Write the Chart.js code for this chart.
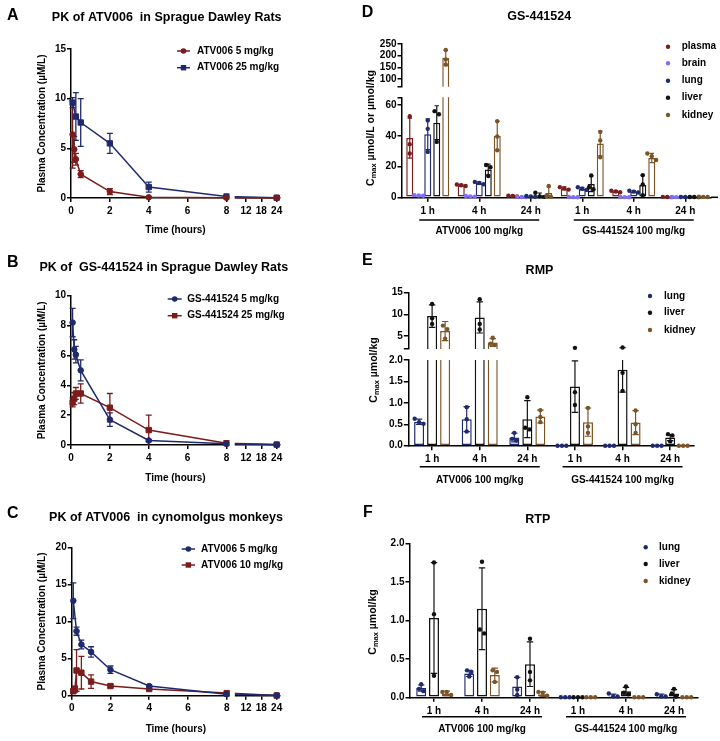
<!DOCTYPE html>
<html>
<head>
<meta charset="utf-8">
<title>PK and tissue distribution of ATV006 / GS-441524</title>
<script src="https://cdn.jsdelivr.net/npm/chart.js@4.4.1/dist/chart.umd.min.js"></script>
<style>
html,body{margin:0;padding:0;background:#fff;}
#root{position:relative;width:720px;height:741px;overflow:hidden;background:#fff;}
canvas{position:absolute;}
</style>
</head>
<body>
<div id="root">
<canvas id="cA" width="360" height="250" style="left:0;top:0"></canvas>
<canvas id="cB" width="360" height="240" style="left:0;top:250px"></canvas>
<canvas id="cC" width="360" height="251" style="left:0;top:490px"></canvas>
<canvas id="cDl" width="360" height="250" style="left:360px;top:0"></canvas>
<canvas id="cDu" width="360" height="250" style="left:360px;top:0"></canvas>
<canvas id="cEl" width="360" height="240" style="left:360px;top:250px"></canvas>
<canvas id="cEu" width="360" height="240" style="left:360px;top:250px"></canvas>
<canvas id="cF" width="360" height="251" style="left:360px;top:490px"></canvas>
</div>
<script>
// ===================== DATA =====================
const TIME_TICKS = [0, 2, 4, 6, 8, 12, 18, 24];

// A: ATV006 in SD rats
const A_T_5 = [0.083, 0.167, 0.25, 0.5, 2, 4, 8, 24];
const A_MEAN_5 = [6.4, 4.9, 3.9, 2.4, 0.65, 0.07, 0.02, 0.01];
const A_SD_5 = [3.4, 1.3, 0.6, 0.35, 0.3, 0.05, 0.01, 0.005];
const A_T_25 = [0.083, 0.25, 0.5, 2, 4, 8, 24];
const A_MEAN_25 = [9.6, 8.2, 7.6, 5.5, 1.1, 0.15, 0.03];
const A_SD_25 = [0.5, 2.4, 2.4, 1.0, 0.5, 0.08, 0.02];

// B: GS-441524 in SD rats
const B_T = [0.083, 0.167, 0.25, 0.5, 2, 4, 8, 24];
const B_MEAN_5 = [8.2, 6.4, 6.05, 5.0, 1.7, 0.3, 0.08, 0.02];
const B_SD_5 = [0.95, 0.65, 0.55, 0.7, 0.45, 0.08, 0.03, 0.01];
const B_MEAN_25 = [2.85, 3.1, 3.45, 3.45, 2.5, 1.0, 0.12, 0.03];
const B_SD_25 = [0.3, 0.4, 0.4, 0.65, 0.95, 1.0, 0.05, 0.02];

// C: ATV006 in cynomolgus monkeys
const C_T_5 = [0.083, 0.25, 0.5, 1, 2, 4, 8, 24];
const C_MEAN_5 = [12.8, 8.7, 6.9, 5.9, 3.5, 1.3, 0.2, 0.05];
const C_SD_5 = [2.4, 0.55, 0.6, 0.7, 0.5, 0.15, 0.05, 0.02];
const C_T_10 = [0.083, 0.167, 0.25, 0.5, 1, 2, 4, 8, 24];
const C_MEAN_10 = [0.6, 0.9, 3.4, 3.1, 1.9, 1.3, 0.9, 0.35, 0.02];
const C_SD_10 = [0.3, 0.4, 2.8, 2.2, 0.9, 0.2, 0.15, 0.1, 0.01];

// D-F: tissue distribution
const TIME_LABELS = ['1 h', '4 h', '24 h', '1 h', '4 h', '24 h'];
const GROUP_LABELS = ['ATV006 100 mg/kg', 'GS-441524 100 mg/kg'];

// D: GS-441524
const D_UPPER_TICKS = [100, 150, 200, 250];
const D_LOWER_TICKS = [0, 20, 40, 60];
const D_PLASMA_MEAN = [38.5, 7.8, 0.8, 5.8, 3.8, 0.2];
const D_PLASMA_SD = [13, 0.6, 0.4, 1.0, 0.5, 0.1];
const D_PLASMA_PTS = [[52.7, 34.5, 28.5], [8.3, 7.8, 7.3], [1.0, 0.8, 0.5], [6.6, 5.8, 5.0], [4.3, 3.8, 3.3], [0.3, 0.2, 0.1]];
const D_BRAIN_MEAN = [1.2, 0.6, 0.2, 0.1, 0.1, 0.1];
const D_BRAIN_SD = [0.3, 0.2, 0.1, 0.05, 0.05, 0.05];
const D_BRAIN_PTS = [[1.4, 1.2, 1.0], [0.8, 0.6, 0.4], [0.3, 0.2, 0.1], [0.15, 0.1, 0.05], [0.15, 0.1, 0.05], [0.15, 0.1, 0.05]];
const D_LUNG_MEAN = [41, 9.3, 0.5, 5.6, 3.7, 0.2];
const D_LUNG_SD = [10, 0.8, 0.3, 0.8, 0.6, 0.1];
const D_LUNG_PTS = [[50, 44.5, 29.5], [10, 9.3, 8.5], [0.8, 0.5, 0.3], [6.5, 5.6, 4.8], [4.3, 3.7, 3.1], [0.3, 0.2, 0.1]];
const D_LIVER_MEAN = [48.5, 18, 1.3, 8.7, 8, 0.2];
const D_LIVER_SD = [11, 3.5, 1.5, 5, 6.5, 0.1];
const D_LIVER_PTS = [[56, 54, 36], [21, 19.5, 13.8], [3.0, 0.6, 0.3], [14.2, 6.5, 5.2], [14.4, 8.4, 1.3], [0.3, 0.2, 0.1]];
const D_KIDNEY_MEAN = [190, 40, 2.8, 35, 25.5, 0.3];
const D_KIDNEY_SD = [33, 9.5, 4, 8, 3, 0.2];
const D_KIDNEY_PTS = [[224, 184, 162], [49.4, 39.5, 30.6], [7.3, 0.8, 0.3], [42.5, 37, 26], [28.5, 26.7, 24.2], [0.4, 0.3, 0.2]];

// E: RMP
const E_UPPER_TICKS = [5, 10, 15];
const E_LOWER_TICKS = [0, 0.5, 1, 1.5, 2];
const E_LUNG_MEAN = [0.56, 0.62, 0.19, 0, 0, 0];
const E_LUNG_SD = [0.06, 0.29, 0.1, 0, 0, 0];
const E_LUNG_PTS = [[0.63, 0.55, 0.51], [0.9, 0.62, 0.33], [0.3, 0.16, 0.12], [0, 0, 0], [0, 0, 0], [0, 0, 0]];
const E_LIVER_MEAN = [9.6, 9.3, 0.62, 1.38, 1.77, 0.19];
const E_LIVER_SD = [2.6, 3.6, 0.43, 0.6, 0.52, 0.07];
const E_LIVER_PTS = [[12.4, 9.1, 7.8], [13.5, 7.8, 6.5], [1.13, 0.42, 0.38], [2.26, 1.25, 0.95], [2.35, 1.7, 1.28], [0.27, 0.24, 0.1]];
const E_KIDNEY_MEAN = [6.15, 3.5, 0.68, 0.55, 0.54, 0];
const E_KIDNEY_SD = [2.2, 0.9, 0.15, 0.33, 0.28, 0];
const E_KIDNEY_PTS = [[7.4, 6.6, 4.4], [4.6, 3.2, 2.9], [0.83, 0.67, 0.55], [0.88, 0.45, 0.3], [0.82, 0.5, 0.3], [0, 0, 0]];

// F: RTP
const F_TICKS = [0, 0.5, 1, 1.5, 2];
const F_LUNG_MEAN = [0.12, 0.31, 0.14, 0, 0.02, 0.02];
const F_LUNG_SD = [0.04, 0.04, 0.12, 0, 0.02, 0.02];
const F_LUNG_PTS = [[0.17, 0.11, 0.08], [0.35, 0.33, 0.27], [0.26, 0.1, 0.03], [0, 0, 0], [0.05, 0.01, 0.01], [0.04, 0.01, 0.01]];
const F_LIVER_MEAN = [1.03, 1.15, 0.43, 0, 0.08, 0.05];
const F_LIVER_SD = [0.72, 0.53, 0.29, 0, 0.05, 0.05];
const F_LIVER_PTS = [[1.75, 1.08, 0.28], [1.76, 0.88, 0.83], [0.76, 0.33, 0.22], [0, 0, 0], [0.14, 0.06, 0.04], [0.11, 0.05, 0.01]];
const F_KIDNEY_MEAN = [0.05, 0.29, 0.04, 0, 0, 0];
const F_KIDNEY_SD = [0.03, 0.09, 0.03, 0, 0, 0];
const F_KIDNEY_PTS = [[0.07, 0.07, 0.03], [0.35, 0.33, 0.2], [0.07, 0.06, 0.02], [0, 0, 0], [0, 0, 0], [0, 0, 0]];

// ===================== STYLE =====================
const FF = "'Liberation Sans', Arial, Helvetica, sans-serif";
const RED = '#7a1c1c', NAVY = '#1f2a6e';
const C_PLASMA = '#7a1c1c', C_BRAIN = '#7d70f7', C_LUNG = '#1f2a6e', C_LIVER = '#111111', C_KIDNEY = '#7b5527';

Chart.defaults.font.family = FF;
Chart.defaults.font.size = 10;
Chart.defaults.font.weight = 'bold';
Chart.defaults.color = '#000';

// ===================== BROKEN TIME SCALE =====================
const BREAK_HOUR = 8;
class BrokenTimeScale extends Chart.LinearScale {
  _toDec(v) {
    const lf = this.options.breakLeftFrac, rs = this.options.breakRightStart;
    if (v <= BREAK_HOUR) return v / BREAK_HOUR * lf;
    return rs + (v - BREAK_HOUR) / (this.max - BREAK_HOUR) * (1 - rs);
  }
  getPixelForValue(v) {
    return v === null || v === undefined ? NaN : this.getPixelForDecimal(this._toDec(v));
  }
  getValueForPixel(p) {
    const d = this.getDecimalForPixel(p);
    const lf = this.options.breakLeftFrac, rs = this.options.breakRightStart;
    if (d <= lf) return d / lf * BREAK_HOUR;
    return BREAK_HOUR + (d - rs) / (1 - rs) * (this.max - BREAK_HOUR);
  }
}
BrokenTimeScale.id = 'brokenTime';
BrokenTimeScale.defaults = {};
Chart.register(BrokenTimeScale);

// ===================== HELPERS =====================
function txt(ctx, s, x, y, size, align, baseline) {
  ctx.save();
  ctx.font = 'bold ' + size + 'px ' + FF;
  ctx.fillStyle = '#000';
  ctx.textAlign = align || 'center';
  ctx.textBaseline = baseline || 'middle';
  ctx.fillText(s, x, y);
  ctx.restore();
}
function letter(ctx, s, x, y) { txt(ctx, s, x, y, 16, 'left', 'alphabetic'); }
function cmaxTitle(ctx, cx, cy, rest) {
  ctx.save();
  ctx.translate(cx, cy);
  ctx.rotate(-Math.PI / 2);
  const fMain = 'bold 10.5px ' + FF, fSub = 'bold 7.5px ' + FF;
  ctx.font = fMain; const wC = ctx.measureText('C').width; const wR = ctx.measureText(rest).width;
  ctx.font = fSub; const wS = ctx.measureText('max').width;
  let x = -(wC + wS + wR) / 2;
  const base = 3.8;
  ctx.fillStyle = '#000'; ctx.textAlign = 'left'; ctx.textBaseline = 'alphabetic';
  ctx.font = fMain; ctx.fillText('C', x, base); x += wC;
  ctx.font = fSub; ctx.fillText('max', x, base + 2.6); x += wS;
  ctx.font = fMain; ctx.fillText(rest, x, base);
  ctx.restore();
}
function dot(ctx, x, y, r, color) {
  ctx.beginPath(); ctx.arc(x, y, r, 0, Math.PI * 2); ctx.fillStyle = color; ctx.fill();
}
function marker(ctx, style, x, y, color) {
  ctx.fillStyle = color;
  if (style === 'rect') { ctx.fillRect(x - 2.7, y - 2.7, 5.4, 5.4); }
  else { ctx.beginPath(); ctx.arc(x, y, 2.8, 0, Math.PI * 2); ctx.fill(); }
}

// ===================== PK LINE CHARTS =====================
function makePK(id, p) {
  const datasets = p.series.map(s => ({
    label: s.label,
    data: s.t.map((t, i) => ({x: t, y: s.mean[i]})),
    sd: s.sd,
    borderColor: s.color, backgroundColor: s.color,
    pointBackgroundColor: s.color, pointBorderColor: s.color,
    pointStyle: s.marker, pointRadius: s.marker === 'rect' ? 3.8 : 2.8, pointBorderWidth: 1,
    borderWidth: 1.5, tension: 0, clip: 10, fill: false
  }));
  const axisCommon = {
    grid: {drawOnChartArea: false, tickLength: 4, lineWidth: 1.5, color: '#000'},
    border: {color: '#000', width: 1.5}
  };
  return new Chart(document.getElementById(id), {
    type: 'line',
    data: {datasets},
    options: {
      responsive: false, devicePixelRatio: 1, animation: false, events: [],
      layout: {padding: p.pad},
      plugins: {legend: {display: false}, title: {display: false}, tooltip: {enabled: false}},
      scales: {
        x: Object.assign({
          type: 'brokenTime', min: 0, max: 25.3, breakLeftFrac: 0.744, breakRightStart: 0.788,
          afterBuildTicks: s => { s.ticks = TIME_TICKS.map(v => ({value: v})); },
          afterFit: s => { s.height = p.xHeight; },
          ticks: {autoSkip: false, maxRotation: 0, padding: 3, callback: v => String(v)},
          title: {display: true, text: 'Time (hours)', padding: {top: 0, bottom: p.xTitlePad}}
        }, axisCommon),
        y: Object.assign({
          type: 'linear', min: 0, max: p.yMax,
          afterFit: s => { s.width = p.yWidth; },
          ticks: {stepSize: p.yStep, padding: 1},
          title: {display: true, text: 'Plasma Concentration (µM/L)', padding: {top: 0, bottom: 0}}
        }, axisCommon)
      }
    },
    plugins: [{
      id: 'pk_' + id,
      beforeDatasetsDraw(chart) {
        const {ctx, chartArea: a, scales: {x, y}} = chart;
        ctx.save();
        ctx.beginPath(); ctx.rect(a.left - 10, a.top - 10, a.right - a.left + 20, a.bottom - a.top + 10); ctx.clip();
        chart.data.datasets.forEach(ds => {
          ctx.strokeStyle = ds.borderColor; ctx.lineWidth = 1.3;
          ds.data.forEach((pt, i) => {
            const sd = ds.sd[i]; if (!sd) return;
            const px = x.getPixelForValue(pt.x);
            const hi = y.getPixelForValue(pt.y + sd);
            const lo = y.getPixelForValue(Math.max(pt.y - sd, 0));
            ctx.beginPath();
            ctx.moveTo(px, hi); ctx.lineTo(px, lo);
            ctx.moveTo(px - 3, hi); ctx.lineTo(px + 3, hi);
            if (pt.y - sd > 0) { ctx.moveTo(px - 3, lo); ctx.lineTo(px + 3, lo); }
            ctx.stroke();
          });
        });
        ctx.restore();
      },
      afterDraw(chart) {
        const {ctx, chartArea: a, scales: {x}} = chart;
        // axis break between 8 h and the compressed 8-24 h segment
        const g0 = x.getPixelForValue(BREAK_HOUR) + 3.2;
        const g1 = x.getPixelForDecimal(x.options.breakRightStart) - 1;
        ctx.fillStyle = '#fff';
        ctx.fillRect(g0, a.bottom - 4, g1 - g0, 7);
        // legend
        p.legend.forEach((it, k) => {
          const ds = chart.data.datasets[k];
          ctx.strokeStyle = ds.borderColor; ctx.lineWidth = 1.5;
          ctx.beginPath(); ctx.moveTo(it.x1, it.y); ctx.lineTo(it.x2, it.y); ctx.stroke();
          marker(ctx, ds.pointStyle, (it.x1 + it.x2) / 2, it.y, ds.borderColor);
          txt(ctx, ds.label, it.tx, it.y, 10, 'left', 'middle');
        });
        letter(ctx, p.letter, p.letterPos[0], p.letterPos[1]);
        txt(ctx, p.title, p.titlePos[0], p.titlePos[1], 12.5);
      }
    }]
  });
}

makePK('cA', {
  series: [
    {label: 'ATV006 5 mg/kg', t: A_T_5, mean: A_MEAN_5, sd: A_SD_5, color: RED, marker: 'circle'},
    {label: 'ATV006 25 mg/kg', t: A_T_25, mean: A_MEAN_25, sd: A_SD_25, color: NAVY, marker: 'rect'}
  ],
  pad: {left: 36, top: 49, right: 80, bottom: 0}, yWidth: 35, xHeight: 52, xTitlePad: 14,
  yMax: 15, yStep: 5,
  legend: [{x1: 177, x2: 190, tx: 197, y: 51}, {x1: 177, x2: 190, tx: 197, y: 67.7}],
  letter: 'A', letterPos: [7, 20],
  title: 'PK of ATV006  in Sprague Dawley Rats', titlePos: [166.7, 17.5]
});
makePK('cB', {
  series: [
    {label: 'GS-441524 5 mg/kg', t: B_T, mean: B_MEAN_5, sd: B_SD_5, color: NAVY, marker: 'circle'},
    {label: 'GS-441524 25 mg/kg', t: B_T, mean: B_MEAN_25, sd: B_SD_25, color: RED, marker: 'rect'}
  ],
  pad: {left: 36, top: 45.7, right: 80, bottom: 0}, yWidth: 35, xHeight: 45, xTitlePad: 6,
  yMax: 10, yStep: 2,
  legend: [{x1: 167.7, x2: 181.7, tx: 187.3, y: 49}, {x1: 167.7, x2: 181.7, tx: 187.3, y: 65.7}],
  letter: 'B', letterPos: [7, 16.7],
  title: 'PK of  GS-441524 in Sprague Dawley Rats', titlePos: [163.8, 17.7]
});
makePK('cC', {
  series: [
    {label: 'ATV006 5 mg/kg', t: C_T_5, mean: C_MEAN_5, sd: C_SD_5, color: NAVY, marker: 'circle'},
    {label: 'ATV006 10 mg/kg', t: C_T_10, mean: C_MEAN_10, sd: C_SD_10, color: RED, marker: 'rect'}
  ],
  pad: {left: 36.7, top: 57.3, right: 80, bottom: 0}, yWidth: 35, xHeight: 45.3, xTitlePad: 6,
  yMax: 20, yStep: 5,
  legend: [{x1: 181.7, x2: 195, tx: 201, y: 59}, {x1: 181.7, x2: 195, tx: 201, y: 75}],
  letter: 'C', letterPos: [7, 28.3],
  title: 'PK of ATV006  in cynomolgus monkeys', titlePos: [166, 28]
});

// ===================== BAR CHARTS =====================
function drawBrackets(chart, yLine, yText) {
  const {ctx, scales: {x}} = chart;
  const per = TIME_LABELS.length / GROUP_LABELS.length;
  GROUP_LABELS.forEach((lab, g) => {
    const c = x.getPixelForValue(g * per + Math.floor(per / 2));
    ctx.save();
    ctx.strokeStyle = '#000'; ctx.lineWidth = 1.5;
    ctx.beginPath(); ctx.moveTo(c - 60, yLine); ctx.lineTo(c + 60, yLine); ctx.stroke();
    ctx.restore();
    txt(ctx, lab, c, yText, 10);
  });
}
function drawBarLegend(chart, items) {
  const ctx = chart.ctx;
  chart.data.datasets.forEach((ds, k) => {
    const it = items[k];
    dot(ctx, it.dx, it.y, 2.2, ds.borderColor);
    txt(ctx, ds.label, it.tx, it.y, 10, 'left', 'middle');
  });
}

function makeBars(id, p) {
  const datasets = p.tissues.map(t => ({
    label: t.label, data: t.mean, sd: t.sd, pts: t.pts,
    backgroundColor: '#ffffff', borderColor: t.color, borderWidth: 1.5, borderSkipped: false,
    barPercentage: p.barPct, categoryPercentage: p.catPct
  }));
  const tickVals = Array.from(new Set([p.yMin].concat(p.yTicks, [p.yMax]))).sort((a, b) => a - b);
  const labelled = p.yTicks;
  const axisCommon = {
    grid: {drawOnChartArea: false, offset: false, tickLength: 4.5, lineWidth: 1.5, color: '#000'},
    border: {color: '#000', width: 1.5}
  };
  return new Chart(document.getElementById(id), {
    type: 'bar',
    data: {labels: TIME_LABELS, datasets},
    options: {
      responsive: false, devicePixelRatio: 1, animation: false, events: [],
      layout: {padding: p.pad},
      plugins: {legend: {display: false}, title: {display: false}, tooltip: {enabled: false}},
      scales: {
        x: Object.assign({
          type: 'category', display: p.showX, offset: true,
          afterFit: s => { s.height = p.xHeight || 0; },
          ticks: {autoSkip: false, maxRotation: 0, padding: 3}
        }, axisCommon),
        y: Object.assign({
          type: 'linear', min: p.yMin, max: p.yMax,
          afterBuildTicks: s => { s.ticks = tickVals.map(v => ({value: v})); },
          afterFit: s => { s.width = p.yWidth; },
          ticks: {autoSkip: false, padding: 1, callback: v => labelled.includes(v) ? p.fmt(v) : ''}
        }, axisCommon)
      }
    },
    plugins: [{
      id: 'bars_' + id,
      afterDatasetsDraw(chart) {
        const {ctx, chartArea: a, scales: {y}} = chart;
        chart.data.datasets.forEach((ds, di) => {
          const meta = chart.getDatasetMeta(di);
          const col = ds.borderColor;
          meta.data.forEach((bar, j) => {
            const m = ds.data[j], sd = ds.sd[j];
            const bx = bar.x, cw = bar.width * 0.32;
            if (sd > 0) {
              ctx.save();
              ctx.beginPath(); ctx.rect(a.left - 20, a.top, a.right - a.left + 40, a.bottom - a.top); ctx.clip();
              const top = m + sd, bot = Math.max(m - sd, 0);
              const hi = y.getPixelForValue(top), lo = y.getPixelForValue(bot);
              ctx.strokeStyle = col; ctx.lineWidth = 1.2;
              ctx.beginPath();
              ctx.moveTo(bx, hi); ctx.lineTo(bx, lo);
              if (top <= y.max && top >= y.min) { ctx.moveTo(bx - cw, hi); ctx.lineTo(bx + cw, hi); }
              if (m - sd > 0 && bot >= y.min && bot <= y.max) { ctx.moveTo(bx - cw, lo); ctx.lineTo(bx + cw, lo); }
              ctx.stroke();
              ctx.restore();
            }
            // individual values
            const r = 2.2;
            const vals = ds.pts[j].filter(v => v >= y.min - 1e-9 && v <= y.max + 1e-9);
            const ys = vals.map(v => y.getPixelForValue(v));
            const order = ys.map((_, i) => i).sort((u, w) => ys[u] - ys[w]);
            const groups = [];
            order.forEach(idx => {
              const g = groups[groups.length - 1];
              if (g && Math.abs(ys[idx] - ys[g[g.length - 1]]) < 2 * r) g.push(idx); else groups.push([idx]);
            });
            groups.forEach(g => g.forEach((idx, k) => {
              dot(ctx, bx + (k - (g.length - 1) / 2) * 2 * r, ys[idx], r, col);
            }));
          });
        });
      },
      afterDraw(chart) { if (p.decor) p.decor(chart); }
    }]
  });
}

const D_TISSUES = [
  {label: 'plasma', color: C_PLASMA, mean: D_PLASMA_MEAN, sd: D_PLASMA_SD, pts: D_PLASMA_PTS},
  {label: 'brain', color: C_BRAIN, mean: D_BRAIN_MEAN, sd: D_BRAIN_SD, pts: D_BRAIN_PTS},
  {label: 'lung', color: C_LUNG, mean: D_LUNG_MEAN, sd: D_LUNG_SD, pts: D_LUNG_PTS},
  {label: 'liver', color: C_LIVER, mean: D_LIVER_MEAN, sd: D_LIVER_SD, pts: D_LIVER_PTS},
  {label: 'kidney', color: C_KIDNEY, mean: D_KIDNEY_MEAN, sd: D_KIDNEY_SD, pts: D_KIDNEY_PTS}
];
const E_TISSUES = [
  {label: 'lung', color: C_LUNG, mean: E_LUNG_MEAN, sd: E_LUNG_SD, pts: E_LUNG_PTS},
  {label: 'liver', color: C_LIVER, mean: E_LIVER_MEAN, sd: E_LIVER_SD, pts: E_LIVER_PTS},
  {label: 'kidney', color: C_KIDNEY, mean: E_KIDNEY_MEAN, sd: E_KIDNEY_SD, pts: E_KIDNEY_PTS}
];
const F_TISSUES = [
  {label: 'lung', color: C_LUNG, mean: F_LUNG_MEAN, sd: F_LUNG_SD, pts: F_LUNG_PTS},
  {label: 'liver', color: C_LIVER, mean: F_LIVER_MEAN, sd: F_LIVER_SD, pts: F_LIVER_PTS},
  {label: 'kidney', color: C_KIDNEY, mean: F_KIDNEY_MEAN, sd: F_KIDNEY_SD, pts: F_KIDNEY_PTS}
];

// D lower segment
makeBars('cDl', {
  tissues: D_TISSUES, barPct: 0.78, catPct: 0.874,
  yMin: 0, yMax: 65, yTicks: D_LOWER_TICKS, fmt: v => String(v),
  pad: {left: 0, top: 97.3, right: 9, bottom: 0}, yWidth: 42, xHeight: 52.7, showX: true,
  decor: chart => {
    const {ctx, chartArea: a} = chart;
    ctx.save(); ctx.strokeStyle = '#000'; ctx.lineWidth = 1.5;
    ctx.beginPath(); ctx.moveTo(a.right, a.bottom); ctx.lineTo(a.right + 7, a.bottom); ctx.stroke(); ctx.restore();
    drawBrackets(chart, 220, 231);
  }
});
// D upper segment
makeBars('cDu', {
  tissues: D_TISSUES, barPct: 0.78, catPct: 0.874,
  yMin: 67, yMax: 250, yTicks: D_UPPER_TICKS, fmt: v => String(v),
  pad: {left: 0, top: 44, right: 9, bottom: 163.3}, yWidth: 42, showX: false,
  decor: chart => {
    const ctx = chart.ctx;
    letter(ctx, 'D', 1.7, 16.7);
    txt(ctx, 'GS-441524', 179.2, 16.7, 12.5);
    drawBarLegend(chart, [46.7, 63.3, 80.7, 97.7, 115].map(y => ({dx: 308, tx: 321.7, y})));
    cmaxTitle(ctx, 10, 128, ' µmol/L or µmol/kg');
  }
});
// E lower segment
makeBars('cEl', {
  tissues: E_TISSUES, barPct: 0.77, catPct: 0.82,
  yMin: 0, yMax: 2, yTicks: E_LOWER_TICKS, fmt: v => v.toFixed(1),
  pad: {left: 0, top: 110, right: 26, bottom: 0}, yWidth: 48.3, xHeight: 44.3, showX: true,
  decor: chart => { drawBrackets(chart, 216.7, 230); }
});
// E upper segment
makeBars('cEu', {
  tissues: E_TISSUES, barPct: 0.77, catPct: 0.82,
  yMin: 2, yMax: 15, yTicks: E_UPPER_TICKS, fmt: v => String(v),
  pad: {left: 0, top: 42.7, right: 26, bottom: 141}, yWidth: 48.3, showX: false,
  decor: chart => {
    const ctx = chart.ctx;
    letter(ctx, 'E', 2, 15);
    txt(ctx, 'RMP', 179.5, 20.5, 12.5);
    drawBarLegend(chart, [46, 62.7, 80].map(y => ({dx: 290, tx: 304, y})));
    cmaxTitle(ctx, 13, 120, ' µmol/kg');
  }
});
// F
makeBars('cF', {
  tissues: F_TISSUES, barPct: 0.78, catPct: 0.8,
  yMin: 0, yMax: 2, yTicks: F_TICKS, fmt: v => v.toFixed(1),
  pad: {left: 0, top: 53.3, right: 22, bottom: 0}, yWidth: 50, xHeight: 43.7, showX: true,
  decor: chart => {
    const ctx = chart.ctx;
    letter(ctx, 'F', 3, 26.7);
    txt(ctx, 'RTP', 177.8, 30, 12.5);
    drawBarLegend(chart, [57.3, 74, 91].map(y => ({dx: 285.7, tx: 299, y})));
    cmaxTitle(ctx, 11.7, 132, ' µmol/kg');
    drawBrackets(chart, 226.7, 239.3);
  }
});
</script>
</body>
</html>
